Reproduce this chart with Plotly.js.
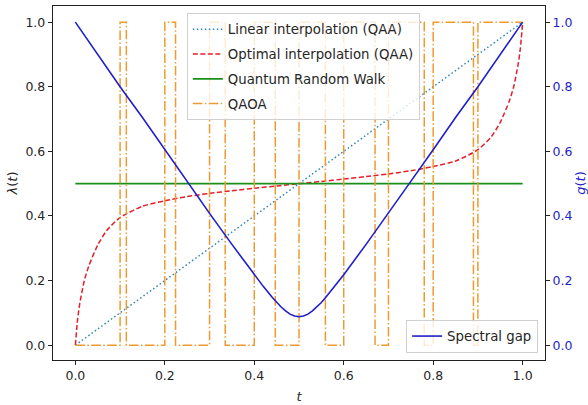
<!DOCTYPE html>
<html>
<head>
<meta charset="utf-8">
<script src="https://cdn.plot.ly/plotly-3.0.1.min.js"></script>
<style>html,body{margin:0;padding:0;background:#fff;}#chart{width:588px;height:405px;}</style>
</head>
<body>
<div id="chart"></div>
<script>
// Linear interpolation (QAA)
const linearT = [0, 1];
const linearY = [0, 1];

// Optimal interpolation (QAA)
const optimalT = [0, 0.005, 0.01, 0.02, 0.03, 0.05, 0.07, 0.1, 0.15, 0.2, 0.25, 0.3, 0.35, 0.4, 0.45, 0.5,
                  0.55, 0.6, 0.65, 0.7, 0.75, 0.8, 0.85, 0.9, 0.93, 0.95, 0.97, 0.98, 0.99, 0.995, 1.0];
const optimalY = [0, 0.08, 0.13, 0.2, 0.245, 0.31, 0.355, 0.395, 0.43, 0.447, 0.46, 0.47, 0.478, 0.486, 0.493, 0.5,
                  0.507, 0.514, 0.522, 0.53, 0.54, 0.553, 0.57, 0.605, 0.645, 0.69, 0.755, 0.8, 0.87, 0.92, 1.0];

// Quantum Random Walk
const qrwT = [0, 1];
const qrwY = [0.5, 0.5];

// QAOA (step function, value held until next switch time)
const qaoaT = [0, 0.1, 0.114, 0.2, 0.224, 0.3, 0.335, 0.4, 0.447, 0.5, 0.559, 0.6, 0.67, 0.7, 0.78, 0.8, 0.89, 0.9, 1.0];
const qaoaY = [0, 1, 0, 1, 0, 1, 0, 1, 0, 1, 0, 1, 0, 1, 0, 1, 0, 1, 1];

// Spectral gap g(t)
const gapT = [0, 0.05, 0.1, 0.15, 0.2, 0.25, 0.3, 0.35, 0.4, 0.42, 0.44, 0.45, 0.46, 0.47, 0.48, 0.49, 0.5,
              0.51, 0.52, 0.53, 0.54, 0.55, 0.56, 0.58, 0.6, 0.65, 0.7, 0.75, 0.8, 0.85, 0.9, 0.95, 1.0];
const gapY = [1.0, 0.90, 0.80, 0.705, 0.605, 0.507, 0.408, 0.312, 0.218, 0.182, 0.148, 0.132, 0.118, 0.106, 0.096, 0.09, 0.088,
              0.09, 0.096, 0.106, 0.118, 0.132, 0.148, 0.182, 0.218, 0.312, 0.408, 0.507, 0.605, 0.705, 0.80, 0.90, 1.0];

const tickVals = [0, 0.2, 0.4, 0.6, 0.8, 1.0];
const tickText = ['0.0', '0.2', '0.4', '0.6', '0.8', '1.0'];

const FONT = 'DejaVu Sans, sans-serif';
const BLUE = '#1f1fc8';

const traces = [
  {x: linearT, y: linearY, mode: 'lines', name: 'Linear interpolation (QAA)', legendgroup: 'a',
   line: {color: '#2f86b8', width: 1.5, dash: '1.5px,2.5px'}, legend: 'legend'},
  {x: optimalT, y: optimalY, mode: 'lines', name: 'Optimal interpolation (QAA)', legendgroup: 'b',
   line: {color: '#e3202a', width: 1.5, dash: '5px,2.5px', shape: 'spline', smoothing: 0.6}, legend: 'legend'},
  {x: qrwT, y: qrwY, mode: 'lines', name: 'Quantum Random Walk', legendgroup: 'c',
   line: {color: '#1a8f1a', width: 1.8}, legend: 'legend'},
  {x: qaoaT, y: qaoaY, mode: 'lines', name: 'QAOA', legendgroup: 'd',
   line: {color: '#ef9a30', width: 1.5, dash: '9.6px,2.4px,1.5px,2.4px', shape: 'hv'}, legend: 'legend'},
  {x: gapT, y: gapY, mode: 'lines', name: 'Spectral gap', yaxis: 'y2',
   line: {color: BLUE, width: 1.6}, legend: 'legend2'}
];

const layout = {
  width: 588, height: 405,
  margin: {l: 53, r: 43, t: 6, b: 45},
  paper_bgcolor: '#fff', plot_bgcolor: '#fff',
  font: {family: FONT, size: 12, color: '#262626'},
  showlegend: true,
  xaxis: {
    range: [-0.05, 1.05], tickvals: tickVals, ticktext: tickText,
    showgrid: false, zeroline: false, showline: true, mirror: true, linecolor: '#222', linewidth: 1.2,
    ticks: 'outside', ticklen: 4, tickcolor: '#222', tickfont: {family: FONT, size: 12.5, color: '#262626'},
    title: {text: '<i>t</i>', font: {family: FONT, size: 13, color: '#262626'}, standoff: 9},
    automargin: false
  },
  yaxis: {
    range: [-0.046, 1.05], tickvals: tickVals, ticktext: tickText,
    showgrid: false, zeroline: false, showline: true, mirror: true, linecolor: '#222', linewidth: 1.2,
    ticks: 'outside', ticklen: 4, tickcolor: '#222', tickfont: {family: FONT, size: 12.5, color: '#262626'},
    title: {text: '<i>λ</i>(<i>t</i>)', font: {family: FONT, size: 13, color: '#262626'}, standoff: 4},
    automargin: false
  },
  yaxis2: {
    overlaying: 'y', side: 'right',
    range: [-0.046, 1.05], tickvals: tickVals, ticktext: tickText,
    showgrid: false, zeroline: false, showline: false,
    ticks: 'outside', ticklen: 4, tickcolor: '#222', tickfont: {family: FONT, size: 12.5, color: BLUE},
    title: {text: '<i>g</i>(<i>t</i>)', font: {family: FONT, size: 13, color: BLUE}, standoff: 6},
    automargin: false
  },
  legend: {
    x: 0.272, y: 0.98, xanchor: 'left', yanchor: 'top',
    bgcolor: 'rgba(255,255,255,0.8)', bordercolor: '#d0d0d0', borderwidth: 1,
    font: {family: FONT, size: 13.3, color: '#262626'}, itemwidth: 30, tracegroupgap: 4.5
  },
  legend2: {
    x: 0.986, y: 0.02, xanchor: 'right', yanchor: 'bottom',
    bgcolor: 'rgba(255,255,255,0.8)', bordercolor: '#d0d0d0', borderwidth: 1,
    font: {family: FONT, size: 13.3, color: '#262626'}, itemwidth: 30
  }
};

Plotly.newPlot('chart', traces, layout, {displayModeBar: false, staticPlot: true});
</script>
</body>
</html>
